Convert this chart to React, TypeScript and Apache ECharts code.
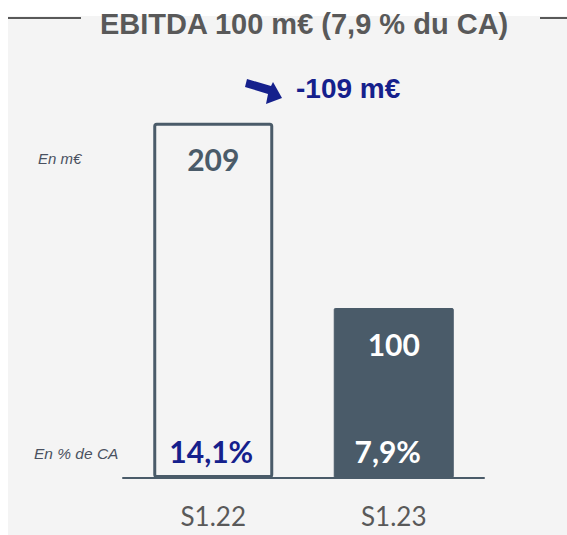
import React, { useEffect, useRef } from "react";
import * as echarts from "echarts";

const categories = ["S1.22", "S1.23"];
const ebitda = [209, 100];
const marginPct = ["14,1%", "7,9%"];
const titleText = "EBITDA 100 m€ (7,9 % du CA)";

const SLATE = "#4a5b69";
const NAVY = "#15208c";

export default function App() {
  const ref = useRef<HTMLDivElement>(null);
  useEffect(() => {
    if (!ref.current) return;
    const chart = echarts.init(ref.current, null, { renderer: "svg" });
    const diff = ebitda[1] - ebitda[0];
    chart.setOption({
      animation: false,
      backgroundColor: "#ffffff",
      title: {
        text: titleText,
        left: 95,
        top: 4,
        textStyle: {
          fontFamily: "Liberation Sans",
          fontWeight: "bold",
          fontSize: 29,
          color: "#595959",
        },
      },
      grid: { left: 123, right: 83, top: 53, bottom: 57 },
      xAxis: {
        type: "category",
        data: categories,
        axisLine: { lineStyle: { color: SLATE, width: 2 } },
        axisTick: { show: false },
        axisLabel: {
          fontFamily: "Lato",
          fontSize: 26,
          color: "#595959",
          margin: 25,
        },
        z: 5,
      },
      yAxis: { type: "value", min: 0, max: 250, show: false, splitLine: { show: false } },
      graphic: [
        { type: "rect", z: -10, silent: true, shape: { x: 8, y: 16, width: 559, height: 519 }, style: { fill: "#f4f4f4" } },
        { type: "line", shape: { x1: 8, y1: 18, x2: 81, y2: 18 }, style: { stroke: "#595959", lineWidth: 2 } },
        { type: "line", shape: { x1: 540, y1: 18, x2: 567, y2: 18 }, style: { stroke: "#595959", lineWidth: 2 } },
        {
          type: "polygon",
          shape: { points: [[247, 79], [271, 86], [273, 82], [282, 98], [266, 104], [268, 94], [245, 87]] },
          style: { fill: NAVY },
        },
        {
          type: "text",
          x: 296,
          y: 88,
          style: {
            text: `${diff} m€`,
            fontFamily: "Liberation Sans",
            fontWeight: "bold",
            fontSize: 28,
            fill: NAVY,
            verticalAlign: "middle",
          },
        },
        {
          type: "text",
          x: 38,
          y: 158,
          style: { text: "En m€", fontFamily: "Liberation Sans", fontStyle: "italic", fontSize: 15, fill: "#4a5160", verticalAlign: "middle" },
        },
        {
          type: "text",
          x: 34,
          y: 453,
          style: { text: "En % de CA", fontFamily: "Liberation Sans", fontStyle: "italic", fontSize: 15.5, fill: "#4a5160", verticalAlign: "middle" },
        },
      ],
      series: [
        {
          type: "bar",
          barWidth: 120,
          data: [
            { value: ebitda[0], itemStyle: { color: "rgba(0,0,0,0)", borderColor: SLATE, borderWidth: 3, borderRadius: 2 }, label: { color: SLATE } },
            { value: ebitda[1], itemStyle: { color: SLATE, borderColor: SLATE, borderWidth: 1, borderRadius: 1 }, label: { color: "#ffffff" } },
          ],
          label: {
            show: true,
            position: "insideTop",
            distance: 21,
            fontFamily: "Lato",
            fontWeight: "bold",
            fontSize: 30,
          },
          z: 2,
        },
        {
          type: "bar",
          barWidth: 120,
          barGap: "-100%",
          silent: true,
          itemStyle: { color: "rgba(0,0,0,0)" },
          data: ebitda.map((v, i) => ({
            value: v,
            label: { color: i === 0 ? NAVY : "#ffffff", offset: i === 0 ? [-2, 0] : [-6, 0] },
          })),
          label: {
            show: true,
            position: "insideBottom",
            distance: 12,
            formatter: (p: any) => marginPct[p.dataIndex],
            fontFamily: "Lato",
            fontWeight: "bold",
            fontSize: 30,
          },
          z: 3,
        },
      ],
    });
    return () => chart.dispose();
  }, []);
  return <div ref={ref} style={{ position: "fixed", left: 0, top: 0, width: 567, height: 535 }} />;
}
